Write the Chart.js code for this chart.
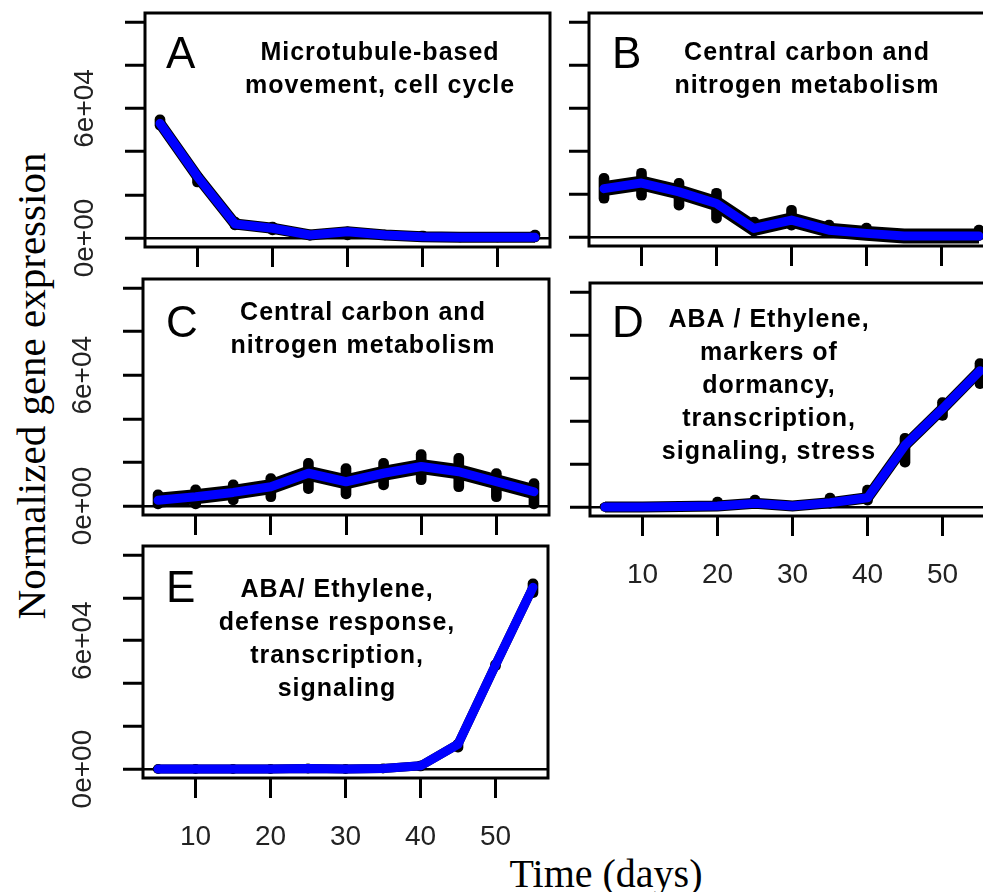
<!DOCTYPE html>
<html>
<head>
<meta charset="utf-8">
<script src="https://cdn.jsdelivr.net/npm/chart.js@4.4.1/dist/chart.umd.min.js"></script>
<style>
  html, body { margin:0; padding:0; background:#fff; }
  body { width:983px; height:892px; overflow:hidden; position:relative; }
  canvas { position:absolute; }
  .title { position:absolute; white-space:nowrap; font-family:'Liberation Serif', 'Times New Roman', serif; color:#000; line-height:1; }
</style>
</head>
<body>
<div class="title" id="ytitle" style="left:31px; top:386px; font-size:41px; transform:translate(-50%,-50%) rotate(-90deg);">Normalized gene expression</div>
<div class="title" id="xtitle" style="left:606px; top:854px; font-size:40px; transform:translateX(-50%);">Time (days)</div>
<canvas id="cA"></canvas>
<canvas id="cB"></canvas>
<canvas id="cC"></canvas>
<canvas id="cD"></canvas>
<canvas id="cE"></canvas>
<script>
// ---------- data ----------
const days = [5, 10, 15, 20, 25, 30, 35, 40, 45, 50, 55];
const xTickValues = [10, 20, 30, 40, 50];
const xTickLabels = ['10', '20', '30', '40', '50'];
const yTickValues = [0, 20000, 40000, 60000, 80000, 100000];
const yTickLabels = ['0e+00', '', '', '6e+04', '', ''];

const panelLetters = ['A', 'B', 'C', 'D', 'E'];
const titleA = ['Microtubule-based', 'movement, cell cycle'];
const titleB = ['Central carbon and', 'nitrogen metabolism'];
const titleC = ['Central carbon and', 'nitrogen metabolism'];
const titleD = ['ABA / Ethylene,', 'markers of', 'dormancy,', 'transcription,', 'signaling, stress'];
const titleE = ['ABA/ Ethylene,', 'defense response,', 'transcription,', 'signaling'];
const xAxisTitle = 'Time (days)';
const yAxisTitle = 'Normalized gene expression';

const meanA = [53100, 28400, 6500, 4500, 1400, 2900, 1400, 600, 300, 300, 300];
const lowA  = [50000, 23600, 3700, 1400, -1000, -900, -900, -800, -700, -700, -900];
const highA = [57000, 30600, 9700, 7400, 3700, 5100, 3700, 3200, 2300, 2300, 3700];

const meanB = [22500, 25100, 21000, 15600, 4000, 7900, 3200, 1700, 500, 500, 500];
const lowB  = [15700, 17100, 12500, 6500, 0, 3200, 0, 0, 0, 0, -1400];
const highB = [29600, 32000, 27300, 22700, 9300, 14800, 7900, 6500, 3200, 2300, 5600];

const meanC = [2600, 4200, 6200, 8800, 15000, 11100, 15000, 18100, 15700, 11100, 6500];
const lowC  = [-1400, -1400, 500, 1900, 5600, 3200, 7400, 9700, 6500, 1900, -1400];
const highC = [7400, 9700, 12000, 14800, 21800, 19400, 21800, 25900, 24100, 17100, 12500];

const meanD = [0, 0, 300, 500, 1700, 500, 2000, 4300, 28700, 45700, 63400];
const lowD  = [-800, -800, -800, -500, -500, -800, -500, 900, 18500, 40300, 55100];
const highD = [1500, 1500, 2500, 4600, 5600, 2500, 6500, 10200, 34300, 50900, 69000];

const meanE = [0, 0, 0, 0, 300, 0, 300, 1500, 11600, 48600, 84900];
const lowE  = [-900, -900, -900, -900, -900, -900, -900, -900, 7900, 46000, 80100];
const highE = [900, 900, 900, 900, 1500, 900, 1500, 3700, 13900, 51000, 88900];

// ---------- layout / style (not data) ----------
const X_MIN = 3, X_MAX = 57, Y_MIN = -4170, Y_MAX = 104200;
const AXIS_H = 80, PAD_TOP = 10;
const TICK_FONT = { family: "'Liberation Sans', Arial, sans-serif", size: 28 };

const boxPlugin = {
  id: 'rbox',
  afterDraw(chart, args, opts) {
    const { ctx, chartArea: a } = chart;
    ctx.save();
    ctx.strokeStyle = '#000';
    ctx.lineWidth = 3;
    ctx.strokeRect(a.left, a.top, a.right - a.left, a.bottom - a.top);
    ctx.fillStyle = '#000';
    ctx.textAlign = 'left';
    ctx.textBaseline = 'alphabetic';
    ctx.font = "44px 'Liberation Sans', Arial, sans-serif";
    ctx.fillText(opts.letter, a.left + opts.letterDx, a.top + opts.letterDy);
    ctx.font = "bold 25px 'Liberation Sans', Arial, sans-serif";
    if ('letterSpacing' in ctx) ctx.letterSpacing = '1px';
    ctx.textAlign = 'center';
    opts.lines.forEach((t, i) => {
      ctx.fillText(t, a.left + opts.textDx, a.top + opts.textDy + i * 33);
    });
    ctx.restore();
  }
};

function makePanel(id, g, mean, low, high, letter, lines, showX, showY, bandW, txt) {
  const cv = document.getElementById(id);
  const w = g.canvasW, h = PAD_TOP + (g.boxBottom - g.boxTop) + AXIS_H;
  cv.width = w; cv.height = h;
  cv.style.left = g.canvasLeft + 'px';
  cv.style.top = (g.boxTop - PAD_TOP) + 'px';
  cv.style.width = w + 'px'; cv.style.height = h + 'px';

  const pts = days.map((d, i) => ({ x: d, y: mean[i] }));
  const blobs = days.map((d, i) => ({ x: d, y: [low[i], high[i]] }));

  new Chart(cv.getContext('2d'), {
    type: 'line',
    data: {
      datasets: [
        { type: 'bar', data: blobs, backgroundColor: '#000', barThickness: 10, borderRadius: 5, borderSkipped: false, order: 3 },
        { type: 'line', data: pts, borderColor: '#000', borderWidth: bandW, pointRadius: 5, pointBackgroundColor: '#000', pointBorderWidth: 0, tension: 0, order: 2 },
        { type: 'line', data: pts, borderColor: '#0000ff', borderWidth: 9, pointRadius: 0, tension: 0, borderCapStyle: 'round', borderJoinStyle: 'round', order: 1 }
      ]
    },
    options: {
      responsive: false,
      animation: false,
      devicePixelRatio: 1,
      layout: { padding: { top: PAD_TOP, right: g.canvasLeft + w - g.boxRight, left: 0, bottom: 0 } },
      plugins: {
        legend: { display: false },
        tooltip: { enabled: false },
        rbox: Object.assign({ letter: letter, lines: lines }, txt)
      },
      scales: {
        x: {
          type: 'linear', min: X_MIN, max: X_MAX, offset: false,
          afterBuildTicks: s => { s.ticks = xTickValues.map(v => ({ value: v })); },
          afterFit: s => { s.height = AXIS_H; s.paddingLeft = 0; s.paddingRight = 0; },
          border: { display: false },
          grid: { offset: false, drawOnChartArea: false, drawTicks: true, tickLength: 20, tickColor: '#000', tickWidth: 3 },
          ticks: {
            display: showX, autoSkip: false, maxRotation: 0, minRotation: 0, padding: 22,
            color: '#222', font: TICK_FONT,
            callback: v => xTickLabels[xTickValues.indexOf(v)]
          }
        },
        y: {
          type: 'linear', min: Y_MIN, max: Y_MAX,
          afterBuildTicks: s => { s.ticks = yTickValues.map(v => ({ value: v })); },
          afterFit: s => { s.width = g.boxLeft - g.canvasLeft; s.paddingTop = 0; s.paddingBottom = 0; },
          border: { display: false },
          grid: {
            offset: false, drawOnChartArea: true, drawTicks: true, tickLength: 20, tickColor: '#000', tickWidth: 3,
            lineWidth: 2.5,
            color: c => (c.tick && c.tick.value === 0) ? '#000' : 'rgba(0,0,0,0)'
          },
          ticks: {
            display: showY, autoSkip: false, minRotation: 90, maxRotation: 90, crossAlign: 'center', padding: 0,
            color: '#222', font: TICK_FONT,
            callback: v => yTickLabels[yTickValues.indexOf(v)]
          }
        }
      }
    },
    plugins: [boxPlugin]
  });
}

makePanel('cA', { canvasLeft: 0, canvasW: 560, boxLeft: 145, boxTop: 13, boxRight: 550, boxBottom: 247 },
  meanA, lowA, highA, panelLetters[0], titleA, false, true, 11, { letterDx: 21, letterDy: 55, textDx: 235, textDy: 47 });
makePanel('cB', { canvasLeft: 540, canvasW: 470, boxLeft: 589, boxTop: 13, boxRight: 994, boxBottom: 246 },
  meanB, lowB, highB, panelLetters[1], titleB, false, false, 15, { letterDx: 23, letterDy: 55, textDx: 218, textDy: 47 });
makePanel('cC', { canvasLeft: 0, canvasW: 560, boxLeft: 143, boxTop: 279, boxRight: 549, boxBottom: 515 },
  meanC, lowC, highC, panelLetters[2], titleC, false, true, 15, { letterDx: 23, letterDy: 58, textDx: 220, textDy: 41 });
makePanel('cD', { canvasLeft: 540, canvasW: 470, boxLeft: 590, boxTop: 283, boxRight: 995, boxBottom: 516 },
  meanD, lowD, highD, panelLetters[3], titleD, true, false, 11, { letterDx: 22, letterDy: 54, textDx: 179, textDy: 44 });
makePanel('cE', { canvasLeft: 0, canvasW: 560, boxLeft: 143, boxTop: 546, boxRight: 548, boxBottom: 778 },
  meanE, lowE, highE, panelLetters[4], titleE, true, true, 9, { letterDx: 23, letterDy: 56, textDx: 194, textDy: 51 });
</script>
</body>
</html>
